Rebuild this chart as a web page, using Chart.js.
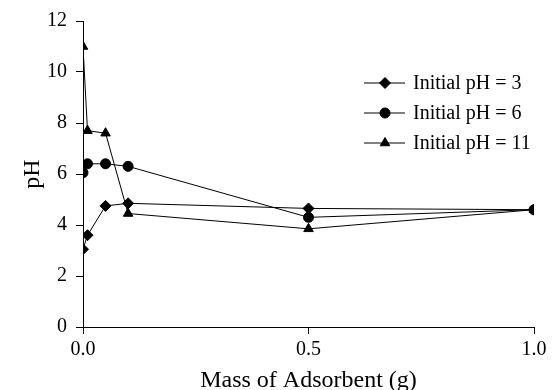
<!DOCTYPE html>
<html>
<head>
<meta charset="utf-8">
<script src="https://cdn.jsdelivr.net/npm/chart.js@4/dist/chart.umd.min.js"></script>
<style>
  html, body { margin: 0; padding: 0; background: #fff; }
  #wrap { width: 554px; height: 390px; }
</style>
</head>
<body>
<div id="wrap"><canvas id="chart" width="554" height="390"></canvas></div>
<script>
// mass of adsorbent (g)
var masses = [0, 0.01, 0.05, 0.1, 0.5, 1.0];
// final pH for each initial pH
var phStart3 = [3.05, 3.6, 4.75, 4.85, 4.65, 4.6];
var phStart6 = [6.05, 6.4, 6.4, 6.3, 4.3, 4.6];
var phStart11 = [11.0, 7.7, 7.6, 4.45, 3.85, 4.6];
var seriesLabels = ['Initial pH = 3', 'Initial pH = 6', 'Initial pH = 11'];
var xTicks = [0, 0.5, 1.0];
var yTicks = [0, 2, 4, 6, 8, 10, 12];

var serif = "'Liberation Serif', 'Times New Roman', serif";

function toPoints(ys) {
    return masses.map(function (m, i) { return { x: m, y: ys[i] }; });
}

function makeSet(label, ys, style, radius) {
    return {
        label: label,
        data: toPoints(ys),
        borderColor: '#000',
        backgroundColor: '#000',
        borderWidth: 1,
        pointStyle: style,
        pointRadius: radius,
        pointBorderWidth: 1,
        pointBackgroundColor: '#000',
        pointBorderColor: '#000',
        showLine: true,
        tension: 0
    };
}

// legend drawn as line - marker - line, like the original figure
var lineLegend = {
    id: 'lineLegend',
    afterDraw: function (chart) {
        var ctx = chart.ctx;
        var rows = [83, 113, 143];
        ctx.save();
        chart.data.datasets.forEach(function (ds, i) {
            var y = rows[i];
            ctx.strokeStyle = '#000';
            ctx.lineWidth = 1;
            ctx.beginPath();
            ctx.moveTo(364, y);
            ctx.lineTo(405, y);
            ctx.stroke();
            ctx.fillStyle = '#000';
            Chart.helpers.drawPoint(ctx, {
                pointStyle: ds.pointStyle,
                radius: ds.pointRadius,
                borderWidth: 1
            }, 385, y);
            ctx.fillStyle = '#000';
            ctx.font = '20px ' + serif;
            ctx.textBaseline = 'middle';
            ctx.textAlign = 'left';
            ctx.fillText(ds.label, 413, y + 1);
        });
        ctx.restore();
    }
};

var ctx = document.getElementById('chart').getContext('2d');
var chart = new Chart(ctx, {
    type: 'scatter',
    data: {
        datasets: [
            makeSet(seriesLabels[0], phStart3, 'rectRot', 5.5),
            makeSet(seriesLabels[1], phStart6, 'circle', 5),
            makeSet(seriesLabels[2], phStart11, 'triangle', 5.5)
        ]
    },
    options: {
        responsive: false,
        animation: false,
        layout: { padding: { left: 0, top: 20, right: 20, bottom: 0 } },
        plugins: {
            legend: { display: false },
            tooltip: { enabled: false }
        },
        scales: {
            x: {
                type: 'linear',
                min: 0,
                max: 1,
                afterFit: function (scale) { scale.height = 63; },
                afterBuildTicks: function (scale) {
                    scale.ticks = xTicks.map(function (v) { return { value: v }; });
                },
                grid: {
                    drawOnChartArea: false,
                    drawTicks: true,
                    tickLength: 7,
                    color: '#000'
                },
                border: { color: '#000', width: 1 },
                ticks: {
                    color: '#000',
                    padding: 4,
                    maxRotation: 0,
                    font: { family: serif, size: 20 },
                    callback: function (v) { return Number(v).toFixed(1); }
                },
                title: {
                    display: true,
                    text: 'Mass of Adsorbent (g)',
                    color: '#000',
                    padding: 0,
                    font: { family: serif, size: 24, lineHeight: 0.8 }
                }
            },
            y: {
                min: 0,
                max: 12,
                afterFit: function (scale) { scale.width = 83; },
                afterBuildTicks: function (scale) {
                    scale.ticks = yTicks.map(function (v) { return { value: v }; });
                },
                grid: {
                    drawOnChartArea: false,
                    drawTicks: true,
                    tickLength: 7,
                    color: '#000'
                },
                border: { color: '#000', width: 1 },
                ticks: {
                    color: '#000',
                    padding: 9,
                    font: { family: serif, size: 20 }
                },
                title: {
                    display: true,
                    text: 'pH',
                    color: '#000',
                    padding: { top: 18, bottom: 0 },
                    font: { family: serif, size: 24 }
                }
            }
        }
    },
    plugins: [lineLegend]
});
</script>
</body>
</html>
